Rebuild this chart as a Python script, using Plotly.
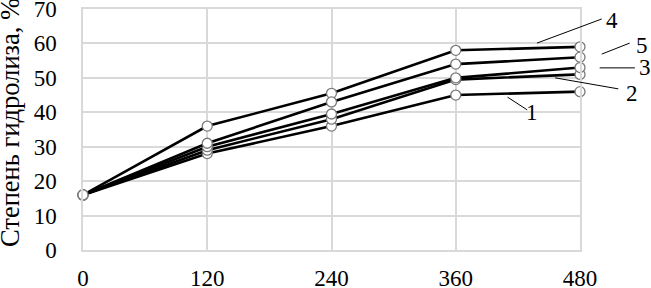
import plotly.graph_objects as go

time_min = [0, 120, 240, 360, 480]
series_1 = [16, 28, 36, 45, 46]
series_2 = [16, 29, 38, 49.5, 51]
series_3 = [16, 30, 39.5, 50, 53]
series_4 = [16, 36, 45.5, 58, 59]
series_5 = [16, 31, 43, 54, 56]
series_names = ["1", "2", "3", "4", "5"]
y_ticks = [0, 10, 20, 30, 40, 50, 60, 70]
x_ticks = [0, 120, 240, 360, 480]
y_title = "Степень гидролиза, %"

X_MAX, Y_MAX = 480, 70

# leader line (start near curve, end near label) and label position, data units
label_points = {
    "4": ((438.5, 60.1), (501, 67.1), (511, 66.8)),
    "5": ((501, 56.9), (528, 60.1), (540, 59.5)),
    "3": ((499, 52.9), (533, 52.9), (543, 53.0)),
    "2": ((456, 50.0), (517, 46.8), (530, 45.6)),
    "1": ((410, 44.4), (429, 40.7), (434, 39.8)),
}

fig = go.Figure()
all_series = [series_1, series_2, series_3, series_4, series_5]
for name, ys in zip(series_names, all_series):
    fig.add_trace(go.Scatter(
        x=time_min, y=ys, name=name, mode="lines+markers",
        line=dict(color="black", width=2.6),
        marker=dict(size=10, color="white", line=dict(color="#7a7a7a", width=1.3)),
        cliponaxis=False, hoverinfo="skip",
    ))

font = dict(family="Liberation Serif, Times New Roman, serif", size=23, color="black")
title_font = dict(family="Liberation Serif, Times New Roman, serif", size=26.5, color="black")

for name, ((x0, y0), (x1, y1), (tx, ty)) in label_points.items():
    fig.add_shape(type="line", xref="paper", yref="paper",
                  x0=x0 / X_MAX, y0=y0 / Y_MAX, x1=x1 / X_MAX, y1=y1 / Y_MAX,
                  line=dict(color="black", width=1))
    fig.add_annotation(x=tx / X_MAX, y=ty / Y_MAX, xref="paper", yref="paper",
                       text=name, showarrow=False, font=font,
                       xanchor="center", yanchor="middle")

# y-axis title
fig.add_annotation(x=0, y=0.527, xref="paper", yref="paper", xanchor="center",
                   yanchor="middle", xshift=-73, textangle=-90, text=y_title,
                   showarrow=False, font=title_font)

fig.update_layout(
    width=651, height=288,
    margin=dict(l=83, r=71, t=9, b=38),
    paper_bgcolor="white", plot_bgcolor="white",
    showlegend=False,
    font=font,
)
axis_common = dict(
    showgrid=True, gridcolor="#d9d9d9", gridwidth=1.5,
    zeroline=False, showline=True, linecolor="#d9d9d9", linewidth=1.5, mirror=True,
    ticks="", tickfont=font, automargin=False, ticklabeloverflow="allow",
)
fig.update_xaxes(range=[0, X_MAX], tickvals=x_ticks, ticklabelstandoff=7, **axis_common)
fig.update_yaxes(range=[0, Y_MAX], tickvals=y_ticks, ticklabelstandoff=20, **axis_common)
fig.write_html("out.html", post_script="document.body.style.margin='0';",
               config={"displayModeBar": False})
